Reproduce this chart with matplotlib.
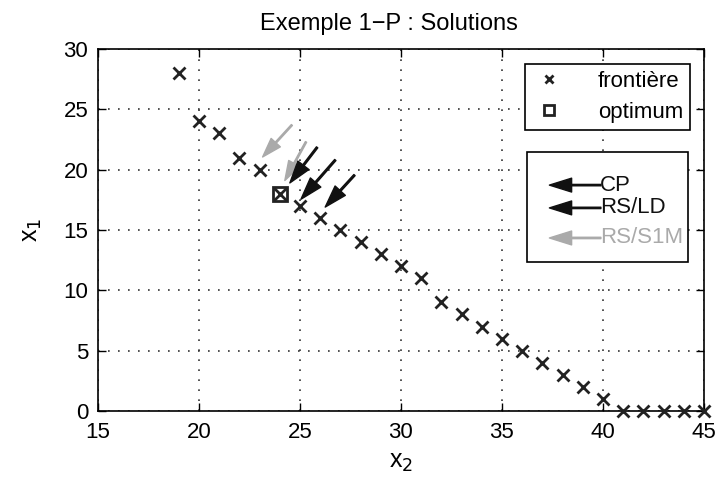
import matplotlib
matplotlib.use("Agg")
import matplotlib.pyplot as plt
from matplotlib.patches import Rectangle

plt.rcParams['font.family'] = ['Liberation Sans', 'DejaVu Sans']

# frontier points
x2_front = [19, 20, 21, 22, 23, 24, 25, 26, 27, 28, 29, 30, 31, 32, 33, 34, 35, 36, 37, 38, 39, 40, 41, 42, 43, 44, 45]
x1_front = [28, 24, 23, 21, 20, 18, 17, 16, 15, 14, 13, 12, 11, 9, 8, 7, 6, 5, 4, 3, 2, 1, 0, 0, 0, 0, 0]
# optimum
x2_opt = [24]
x1_opt = [18]
# solution arrows (tail -> tip) in data coords
black_tail_x2 = [25.85, 26.75, 27.7]
black_tail_x1 = [21.85, 20.8, 19.55]
black_tip_x2 = [24.5, 25.05, 26.25]
black_tip_x1 = [18.9, 17.55, 16.9]
gray_tail_x2 = [24.6, 25.3]
gray_tail_x1 = [23.7, 22.3]
gray_tip_x2 = [23.15, 24.25]
gray_tip_x1 = [21.05, 19.1]

fig = plt.figure(figsize=(7.19, 4.84), dpi=100)
ax = fig.add_axes([0.1363, 0.1508, 0.8427, 0.748])

ax.plot(x2_front, x1_front, linestyle='none', marker='x', markersize=9,
        markeredgewidth=2, color='#222222', label='frontière', clip_on=False, zorder=5)
ax.plot(x2_opt, x1_opt, linestyle='none', marker='s', markersize=10,
        markeredgewidth=2, markerfacecolor='white', color='#222222', label='optimum', zorder=4)

for tx, ty, hx, hy in zip(gray_tail_x2, gray_tail_x1, gray_tip_x2, gray_tip_x1):
    ax.annotate('', xy=(hx, hy), xytext=(tx, ty),
                arrowprops=dict(width=1.0, headwidth=9, headlength=14,
                                facecolor='#aaaaaa', edgecolor='#aaaaaa'), zorder=6)
for tx, ty, hx, hy in zip(black_tail_x2, black_tail_x1, black_tip_x2, black_tip_x1):
    ax.annotate('', xy=(hx, hy), xytext=(tx, ty),
                arrowprops=dict(width=1.2, headwidth=10, headlength=16,
                                facecolor='#111111', edgecolor='#111111'), zorder=7)

ax.set_xlim(15, 45)
ax.set_ylim(0, 30)
ax.set_xticks([15, 20, 25, 30, 35, 40, 45])
ax.set_yticks([0, 5, 10, 15, 20, 25, 30])
ax.grid(True, linestyle=(0, (1, 5)), color='#333333', linewidth=1.2)
ax.tick_params(direction='in', top=True, right=True, labelsize=16, length=6, width=1)
ax.tick_params(axis='x', pad=8)
ax.tick_params(axis='y', pad=7)
for s in ax.spines.values():
    s.set_linewidth(1.2)

ax.set_title('Exemple 1\u2212P : Solutions', fontsize=17, pad=14, x=0.48)
ax.set_xlabel('x$_2$', fontsize=18, labelpad=5)
ax.set_ylabel('x$_1$', fontsize=18, labelpad=14)

leg = ax.legend(loc='upper right', bbox_to_anchor=(0.977, 0.958), borderaxespad=0,
                fontsize=16, frameon=True, fancybox=False, edgecolor='black', framealpha=1,
                handletextpad=1.4, borderpad=0.3, labelspacing=0.45, markerscale=0.7,
                handlelength=1.6)
leg.get_frame().set_linewidth(1.2)

# second legend box for the solution arrows
ax.add_patch(Rectangle((0.708, 0.412), 0.266, 0.303, transform=ax.transAxes,
                       facecolor='white', edgecolor='black', linewidth=1.2, zorder=8))
labels = ['CP', 'RS/LD', 'RS/S1M']
colors = ['#111111', '#111111', '#aaaaaa']
ys = [0.624, 0.561, 0.478]
for lab, col, yy in zip(labels, colors, ys):
    ax.annotate('', xy=(0.745, yy), xytext=(0.83, yy), xycoords='axes fraction',
                arrowprops=dict(width=1.0, headwidth=10, headlength=16,
                                facecolor=col, edgecolor=col), zorder=9)
    ax.text(0.828, yy, lab, transform=ax.transAxes, fontsize=16, color=col,
            ha='left', va='center', zorder=9)

fig.savefig('out.png', dpi=100)
